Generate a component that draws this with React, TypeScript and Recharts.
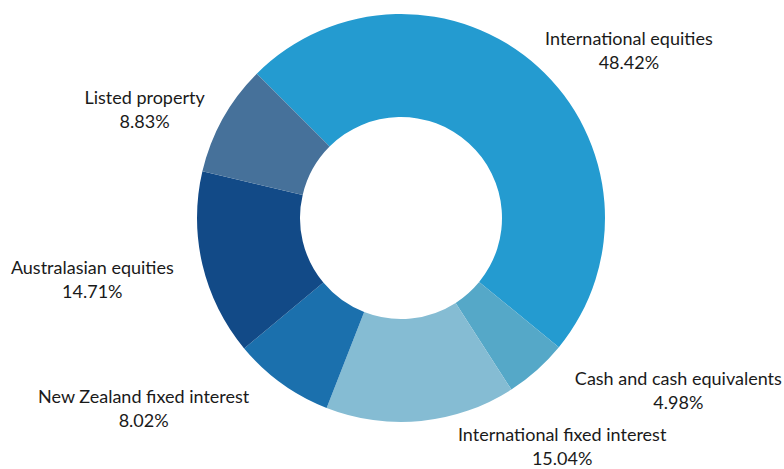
import React from 'react';
import { PieChart, Pie, Cell } from 'recharts';

// Portfolio allocation, clockwise from the upper-left edge
const categories = [
    'International equities',
    'Cash and cash equivalents',
    'International fixed interest',
    'New Zealand fixed interest',
    'Australasian equities',
    'Listed property'
];
const weights = [48.42, 4.98, 15.04, 8.02, 14.71, 8.83];

const COLORS = ['#249bd0', '#55a8c8', '#85bcd3', '#1b70ad', '#124a87', '#46719a'];

// nudges for the outside labels (Excel-style manual placement)
const LABEL_NUDGE: [number, number][] = [
    [44, 36],
    [95, -32],
    [134, -44],
    [-97, -31],
    [-42, -1],
    [-17, 25]
];

const chartData = categories.map((name, i) => ({ name, value: weights[i] }));

const RADIAN = Math.PI / 180;

const renderLabel = (props: any) => {
    const { cx, cy, midAngle, outerRadius, index } = props;
    const r = outerRadius + 70;
    const [dx, dy] = LABEL_NUDGE[index] || [0, 0];
    const x = cx + r * Math.cos(-midAngle * RADIAN) + dx;
    const y = cy + r * Math.sin(-midAngle * RADIAN) + dy;
    return (
        <text
            x={x}
            y={y}
            textAnchor="middle"
            fill="#1a1a1a"
            style={{ fontFamily: 'Lato, "Open Sans", sans-serif', fontSize: 18 }}
        >
            <tspan x={x} dy={-6}>{chartData[index].name}</tspan>
            <tspan x={x} dy={24}>{chartData[index].value.toFixed(2)}%</tspan>
        </text>
    );
};

const App: React.FC = () => {
    return (
        <div style={{ position: 'absolute', left: 0, top: 0, width: 784, height: 469, background: '#fff' }}>
            <PieChart width={784} height={469} margin={{ top: 0, right: 0, bottom: 0, left: 0 }}>
                <Pie
                    data={chartData}
                    dataKey="value"
                    nameKey="name"
                    cx={401}
                    cy={218}
                    innerRadius={101}
                    outerRadius={204}
                    startAngle={135}
                    endAngle={-225}
                    stroke="none"
                    label={renderLabel}
                    labelLine={false}
                    isAnimationActive={false}
                >
                    {chartData.map((_, index) => (
                        <Cell key={`cell-${index}`} fill={COLORS[index % COLORS.length]} stroke="none" />
                    ))}
                </Pie>
            </PieChart>
        </div>
    );
};

export default App;
